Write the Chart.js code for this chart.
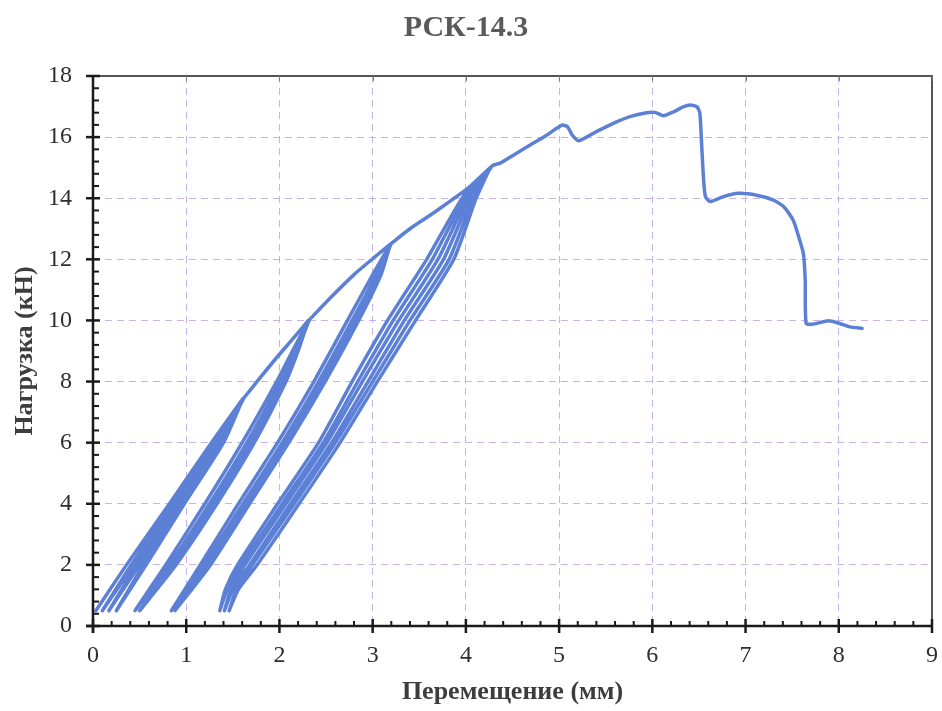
<!DOCTYPE html>
<html>
<head>
<meta charset="utf-8">
<script src="https://cdn.jsdelivr.net/npm/chart.js@4/dist/chart.umd.min.js"></script>
<style>
  html, body { margin: 0; padding: 0; background: #ffffff; }
  #c { display: block; }
</style>
</head>
<body>
<canvas id="c" width="942" height="711"></canvas>
<script>
// ---- Data (displacement mm, load kN) ----
const chartTitle = 'РСК-14.3';
const xAxisTitle = 'Перемещение (мм)';
const yAxisTitle = 'Нагрузка (кН)';
const xTicks = [0, 1, 2, 3, 4, 5, 6, 7, 8, 9];
const yTicks = [0, 2, 4, 6, 8, 10, 12, 14, 16, 18];

// Group A (cycles up to ≈ 7.45 kN)
const initialLoading = [[0.03,0.5],[0.36,2],[0.82,4],[1.27,6],[1.61,7.45]];
const cycleA1Unload = [[1.61,7.45],[1.32,6],[0.88,4],[0.44,2],[0.10,0.5]];
const cycleA1Reload = [[0.10,0.5],[0.41,2],[0.85,4],[1.29,6],[1.61,7.45]];
const cycleA2Unload = [[1.61,7.45],[1.36,6],[0.93,4],[0.50,2],[0.17,0.5]];
const cycleA2Reload = [[0.17,0.5],[0.47,2],[0.90,4],[1.33,6],[1.61,7.45]];
const cycleA3Unload = [[1.61,7.45],[1.40,6],[0.98,4],[0.57,2],[0.25,0.5]];
const cycleA3Reload = [[0.25,0.5],[0.54,2],[0.95,4],[1.37,6],[1.62,7.47]];
const envelopeAB = [[1.62,7.47],[1.80,8.15],[1.98,8.82],[2.15,9.42],[2.31,10.0]];

// Group B (cycles up to ≈ 10 kN)
const cycleB1Unload = [[2.31,10],[2.17,9],[2.01,8],[1.65,6],[1.25,4],[0.82,2],[0.45,0.5]];
const cycleB1Reload = [[0.45,0.5],[0.78,2],[1.20,4],[1.60,6],[1.97,8],[2.14,9],[2.31,10]];
const cycleB2Unload = [[2.31,10],[2.20,9],[2.07,8],[1.73,6],[1.33,4],[0.89,2],[0.50,0.5]];
const cycleB2Reload = [[0.50,0.5],[0.85,2],[1.29,4],[1.69,6],[2.04,8],[2.19,9],[2.32,10.02]];
const envelopeBC = [[2.32,10.02],[2.55,10.75],[2.80,11.5],[3.00,12.02],[3.19,12.5]];

// Group C (cycles up to ≈ 12.5 kN)
const cycleC1Unload = [[3.19,12.5],[3.04,11.5],[2.78,10],[2.42,8],[2.03,6],[1.61,4],[1.19,2],[0.84,0.5]];
const cycleC1Reload = [[0.84,0.5],[1.15,2],[1.56,4],[1.98,6],[2.37,8],[2.73,10],[3.00,11.5],[3.19,12.5]];
const cycleC2Unload = [[3.19,12.5],[3.09,11.5],[2.85,10],[2.49,8],[2.10,6],[1.68,4],[1.26,2],[0.88,0.5]];
const cycleC2Reload = [[0.88,0.5],[1.22,2],[1.64,4],[2.06,6],[2.45,8],[2.81,10],[3.06,11.5],[3.20,12.52]];
const envelopeCD = [[3.20,12.52],[3.40,13.0],[3.62,13.45],[3.82,13.88],[4.02,14.32],[4.26,15.0]];

// Group D (cycles up to ≈ 15 kN)
const cycleD1Unload = [[4.26,15],[3.99,14],[3.64,12],[3.22,10],[2.84,8],[2.47,6],[2.03,4],[1.59,2],[1.44,1.2],[1.36,0.5]];
const cycleD1Reload = [[1.36,0.5],[1.42,1.2],[1.55,2],[1.98,4],[2.42,6],[2.78,8],[3.16,10],[3.58,12],[3.96,14],[4.26,15]];
const cycleD2Unload = [[4.26,15],[4.05,14],[3.76,12],[3.34,10],[2.95,8],[2.56,6],[2.12,4],[1.68,2],[1.50,1.2],[1.41,0.5]];
const cycleD2Reload = [[1.41,0.5],[1.48,1.2],[1.63,2],[2.07,4],[2.51,6],[2.89,8],[3.28,10],[3.70,12],[4.02,14],[4.26,15]];
const cycleD3Unload = [[4.26,15],[4.11,14],[3.87,12],[3.46,10],[3.05,8],[2.65,6],[2.21,4],[1.76,2],[1.56,1.2],[1.46,0.5]];
const cycleD3Reload = [[1.46,0.5],[1.54,1.2],[1.71,2],[2.16,4],[2.60,6],[3.00,8],[3.40,10],[3.82,12],[4.08,14],[4.28,15.05]];

// Post-peak branch
const finalBranch = [[4.37,15.15],[4.51,15.41],[4.69,15.74],[4.87,16.07],[5.03,16.39],[5.09,16.34],
  [5.14,16.07],[5.21,15.88],[5.40,16.18],[5.58,16.45],[5.76,16.67],[5.94,16.80],[6.03,16.81],
  [6.12,16.70],[6.23,16.83],[6.33,16.99],[6.41,17.05],[6.48,16.99],[6.51,16.78],[6.53,15.69],
  [6.55,14.60],[6.57,14.05],[6.62,13.89],[6.76,14.05],[6.92,14.16],[7.12,14.10],[7.30,13.94],
  [7.41,13.72],[7.51,13.29],[7.57,12.74],[7.62,12.19],[7.64,11.32],[7.65,9.90],[7.73,9.88],
  [7.89,9.99],[8.01,9.90],[8.12,9.79],[8.25,9.74]];

const branches = [
  initialLoading, cycleA1Unload, cycleA1Reload, cycleA2Unload, cycleA2Reload, cycleA3Unload, cycleA3Reload, envelopeAB,
  cycleB1Unload, cycleB1Reload, cycleB2Unload, cycleB2Reload, envelopeBC,
  cycleC1Unload, cycleC1Reload, cycleC2Unload, cycleC2Reload, envelopeCD,
  cycleD1Unload, cycleD1Reload, cycleD2Unload, cycleD2Reload, cycleD3Unload, cycleD3Reload, finalBranch
];
const curve = [];
branches.forEach(b => b.forEach(([x, y]) => curve.push({ x, y })));

// ---- Styling ----
const FONT = "'Liberation Serif', 'Times New Roman', serif";
const LINE = '#5c80d6';
const GRID = 'rgba(195,170,228,0.9)';

const framePlugin = {
  id: 'frame',
  afterDraw(chart) {
    const { ctx, chartArea: a, scales: { x, y } } = chart;
    ctx.save();
    ctx.strokeStyle = '#555555';
    ctx.lineWidth = 2;
    ctx.beginPath();
    ctx.moveTo(a.left, a.top); ctx.lineTo(a.right, a.top); ctx.lineTo(a.right, a.bottom);
    ctx.stroke();
    ctx.lineWidth = 1;
    ctx.strokeStyle = '#777777';
    xTicks.forEach(v => {
      const px = Math.round(x.getPixelForValue(v)) + 0.5;
      ctx.beginPath(); ctx.moveTo(px, a.top); ctx.lineTo(px, a.top + 5); ctx.stroke();
    });
    ctx.strokeStyle = '#1a1a1a';
    ctx.lineWidth = 2.5;
    ctx.beginPath();
    ctx.moveTo(a.left, a.top); ctx.lineTo(a.left, a.bottom + 7);
    ctx.moveTo(a.left - 7, a.bottom); ctx.lineTo(a.right, a.bottom);
    ctx.stroke();
    xTicks.forEach(v => {
      const px = x.getPixelForValue(v);
      ctx.beginPath(); ctx.moveTo(px, a.bottom - 7); ctx.lineTo(px, a.bottom + 7); ctx.stroke();
    });
    yTicks.forEach(v => {
      const py = y.getPixelForValue(v);
      ctx.beginPath(); ctx.moveTo(a.left - 7, py); ctx.lineTo(a.left + 7, py); ctx.stroke();
    });
    ctx.lineWidth = 2;
    for (let i = 1; i < 45; i++) {
      if (i % 5 === 0) continue;
      const px = x.getPixelForValue(i * 0.2);
      ctx.beginPath(); ctx.moveTo(px, a.bottom); ctx.lineTo(px, a.bottom - 5); ctx.stroke();
    }
    for (let i = 1; i < 45; i++) {
      if (i % 5 === 0) continue;
      const py = y.getPixelForValue(i * 0.4);
      ctx.beginPath(); ctx.moveTo(a.left, py); ctx.lineTo(a.left + 6, py); ctx.stroke();
    }
    ctx.restore();
  }
};

new Chart(document.getElementById('c'), {
  type: 'scatter',
  data: {
    datasets: [{
      data: curve,
      showLine: true,
      borderColor: LINE,
      backgroundColor: LINE,
      borderWidth: 3.5,
      pointRadius: 0,
      tension: 0.2,
      borderJoinStyle: 'round',
      borderCapStyle: 'round',
      fill: false
    }]
  },
  options: {
    responsive: false,
    animation: false,
    devicePixelRatio: 1,
    layout: { padding: { left: 0, right: 10, top: 0, bottom: 0 } },
    plugins: {
      legend: { display: false },
      tooltip: { enabled: false },
      title: {
        display: true,
        text: chartTitle,
        color: '#5a5a5a',
        font: { family: FONT, size: 30, weight: 'bold' },
        padding: { top: 10, bottom: 30 }
      }
    },
    scales: {
      x: {
        type: 'linear',
        min: 0, max: 9,
        afterFit: s => { s.height = 85; s.paddingRight = 0; s.paddingLeft = 0; },
        afterBuildTicks: s => { s.ticks = xTicks.map(v => ({ value: v })); },
        ticks: {
          color: '#2e2e2e',
          font: { family: FONT, size: 24 },
          padding: 15,
          maxRotation: 0
        },
        grid: { color: GRID, lineWidth: 1, drawTicks: false },
        border: { display: false, dash: [7, 5] },
        title: {
          display: true,
          text: xAxisTitle,
          color: '#3d3d3d',
          font: { family: FONT, size: 26, weight: 'bold' },
          padding: { top: 0, bottom: 3 }
        }
      },
      y: {
        type: 'linear',
        min: 0, max: 18,
        afterFit: s => { s.width = 93; },
        afterBuildTicks: s => { s.ticks = yTicks.map(v => ({ value: v })); },
        ticks: {
          color: '#2e2e2e',
          font: { family: FONT, size: 24 },
          padding: 21
        },
        grid: { color: GRID, lineWidth: 1, drawTicks: false },
        border: { display: false, dash: [7, 5] },
        title: {
          display: true,
          text: yAxisTitle,
          color: '#3d3d3d',
          font: { family: FONT, size: 26, weight: 'bold' },
          padding: { top: 10, bottom: 0 }
        }
      }
    }
  },
  plugins: [framePlugin]
});
</script>
</body>
</html>
